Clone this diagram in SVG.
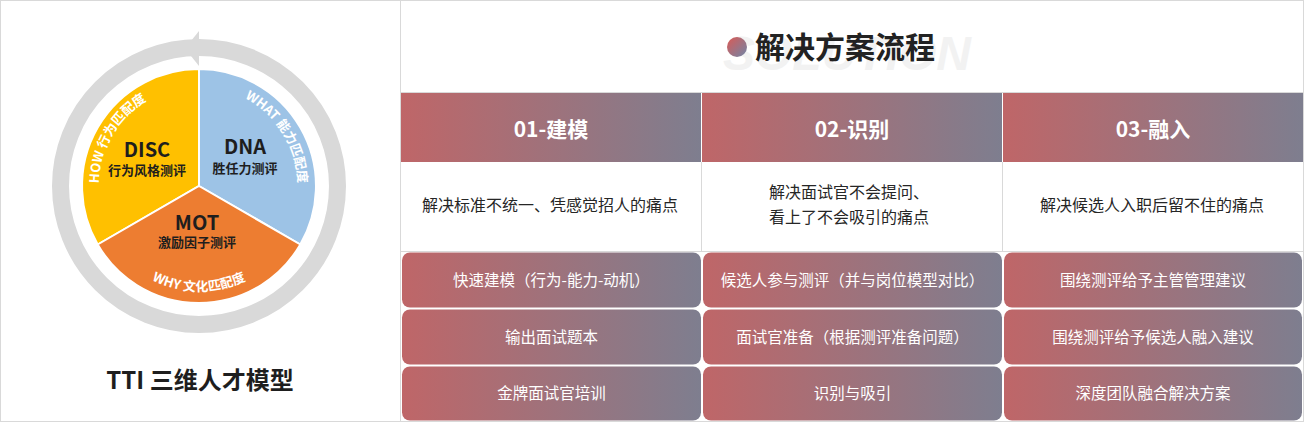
<svg xmlns="http://www.w3.org/2000/svg" xmlns:xlink="http://www.w3.org/1999/xlink" width="1304" height="422" viewBox="0 0 1304 422">
  <defs>
    <linearGradient id="gBar" x1="0" y1="0" x2="1" y2="0">
      <stop offset="0" stop-color="#BF6668"/>
      <stop offset="1" stop-color="#7E7E8F"/>
    </linearGradient>
    <linearGradient id="gDot" x1="0" y1="0" x2="1" y2="1">
      <stop offset="0" stop-color="#DB5A55"/>
      <stop offset="1" stop-color="#6F86A8"/>
    </linearGradient>
    <path id="arcHow" d="M100.5,203.4 A99,99 0 0 1 164.8,92.0"/>
    <path id="arcWhat" d="M229.6,91.8 A99,99 0 0 1 297.0,199.8"/>
    <path id="arcWhy" d="M130.9,266.2 A105,105 0 0 0 267.1,266.2"/>
    <style>
      .cjk { font-family: "Noto Sans CJK SC", "Liberation Sans", sans-serif; }
      .big { font-family: "Noto Sans CJK SC", "Liberation Sans", sans-serif; font-weight: 700; fill: #1E1E1E; text-anchor: middle; }
      .arcT { font-family: "Noto Sans CJK SC", "Liberation Sans", sans-serif; font-weight: 700; font-size: 13px; fill: #FFFFFF; }
      .hdr { font-family: "Noto Sans CJK SC", "Liberation Sans", sans-serif; font-weight: 700; font-size: 21px; fill: #FFFFFF; text-anchor: middle; }
      .desc { font-family: "Noto Sans CJK SC", "Liberation Sans", sans-serif; font-size: 16px; fill: #262626; text-anchor: middle; }
      .btn { fill: url(#gBar); }
      .btnT { font-family: "Noto Sans CJK SC", "Liberation Sans", sans-serif; font-size: 15.5px; fill: #FFFFFF; text-anchor: middle; }
      .sep { stroke: #D9D9D9; stroke-width: 1; fill: none; }
    </style>
  </defs>

  <rect x="0" y="0" width="1304" height="422" fill="#FFFFFF"/>

  <!-- Left panel -->
  <g id="left-panel">
    <rect x="0.5" y="0.5" width="400" height="421" fill="#FFFFFF" stroke="#D9D9D9"/>
  </g>

  <g id="ring">
    <circle cx="199" cy="186" r="138.5" fill="none" stroke="#D9D9D9" stroke-width="17"/>
    <polygon points="199,31 199,66 185,48.5" fill="#D9D9D9"/>
  </g>

  <g id="node-disc">
    <path d="M199,186 L97.7,244.5 A117,117 0 0 1 199,69 Z" fill="#FFC000" stroke="#FFFFFF" stroke-width="2"/>
    <text class="big" x="147" y="157" font-size="20">DISC</text>
    <text class="big" x="147" y="175" font-size="13">行为风格测评</text>
    <text class="arcT"><textPath href="#arcHow" xlink:href="#arcHow" startOffset="50%" text-anchor="middle">HOW 行为匹配度</textPath></text>
  </g>

  <g id="node-dna">
    <path d="M199,186 L199,69 A117,117 0 0 1 300.3,244.5 Z" fill="#9DC3E6" stroke="#FFFFFF" stroke-width="2"/>
    <text class="big" x="245" y="154" font-size="20">DNA</text>
    <text class="big" x="245" y="173" font-size="13">胜任力测评</text>
    <text class="arcT"><textPath href="#arcWhat" xlink:href="#arcWhat" startOffset="50%" text-anchor="middle">WHAT 能力匹配度</textPath></text>
  </g>

  <g id="node-mot">
    <path d="M199,186 L300.3,244.5 A117,117 0 0 1 97.7,244.5 Z" fill="#ED7D31" stroke="#FFFFFF" stroke-width="2"/>
    <text class="big" x="197" y="230" font-size="20">MOT</text>
    <text class="big" x="197" y="247" font-size="13">激励因子测评</text>
    <text class="arcT"><textPath href="#arcWhy" xlink:href="#arcWhy" startOffset="50%" text-anchor="middle">WHY 文化匹配度</textPath></text>
  </g>

  <g id="left-title">
    <text class="big" x="200" y="389" font-size="24" fill="#262626">TTI 三维人才模型</text>
  </g>

  <!-- Right panel -->
  <g id="right-panel">
    <rect x="400.5" y="0.5" width="903" height="421" fill="#FFFFFF" stroke="#D9D9D9"/>
  </g>

  <g id="title">
    <text x="723" y="70" font-family="'Liberation Sans', sans-serif" font-weight="700" font-style="italic" font-size="48" fill="#F2F2F2">SOLUTION</text>
    <circle cx="737" cy="47" r="10" fill="url(#gDot)"/>
    <text class="cjk" x="755" y="58" font-size="30" font-weight="700" fill="#222222">解决方案流程</text>
  </g>

  <g id="connectors">
    <line class="sep" x1="401" y1="92.5" x2="1303" y2="92.5"/>
    <line class="sep" x1="701.5" y1="162" x2="701.5" y2="252"/>
    <line class="sep" x1="1002.5" y1="162" x2="1002.5" y2="252"/>
    <line class="sep" x1="401" y1="251.5" x2="1303" y2="251.5"/>
  </g>

  <g id="col1-header">
    <rect x="401" y="93" width="300" height="69" class="btn"/>
    <text class="hdr" x="551" y="137">01-建模</text>
  </g>
  <g id="col2-header">
    <rect x="702" y="93" width="300" height="69" class="btn"/>
    <text class="hdr" x="852" y="137">02-识别</text>
  </g>
  <g id="col3-header">
    <rect x="1003" y="93" width="300" height="69" class="btn"/>
    <text class="hdr" x="1153" y="137">03-融入</text>
  </g>

  <g id="col1-desc">
    <text class="desc" x="550" y="211">解决标准不统一、凭感觉招人的痛点</text>
  </g>
  <g id="col2-desc">
    <text class="desc" x="849" y="198">解决面试官不会提问、</text>
    <text class="desc" x="849" y="223">看上了不会吸引的痛点</text>
  </g>
  <g id="col3-desc">
    <text class="desc" x="1152" y="211">解决候选人入职后留不住的痛点</text>
  </g>

  <g id="c1r1"><rect class="btn" x="402" y="252.5" width="299" height="55" rx="8"/><text class="btnT" x="551.5" y="286">快速建模（行为-能力-动机）</text></g>
  <g id="c2r1"><rect class="btn" x="703" y="252.5" width="299" height="55" rx="8"/><text class="btnT" x="852.5" y="286">候选人参与测评（并与岗位模型对比）</text></g>
  <g id="c3r1"><rect class="btn" x="1004" y="252.5" width="298" height="55" rx="8"/><text class="btnT" x="1153" y="286">围绕测评给予主管管理建议</text></g>

  <g id="c1r2"><rect class="btn" x="402" y="309.5" width="299" height="55" rx="8"/><text class="btnT" x="551.5" y="343">输出面试题本</text></g>
  <g id="c2r2"><rect class="btn" x="703" y="309.5" width="299" height="55" rx="8"/><text class="btnT" x="852.5" y="343">面试官准备（根据测评准备问题）</text></g>
  <g id="c3r2"><rect class="btn" x="1004" y="309.5" width="298" height="55" rx="8"/><text class="btnT" x="1153" y="343">围绕测评给予候选人融入建议</text></g>

  <g id="c1r3"><rect class="btn" x="402" y="366.5" width="299" height="54" rx="8"/><text class="btnT" x="551.5" y="399">金牌面试官培训</text></g>
  <g id="c2r3"><rect class="btn" x="703" y="366.5" width="299" height="54" rx="8"/><text class="btnT" x="852.5" y="399">识别与吸引</text></g>
  <g id="c3r3"><rect class="btn" x="1004" y="366.5" width="298" height="54" rx="8"/><text class="btnT" x="1153" y="399">深度团队融合解决方案</text></g>
</svg>
